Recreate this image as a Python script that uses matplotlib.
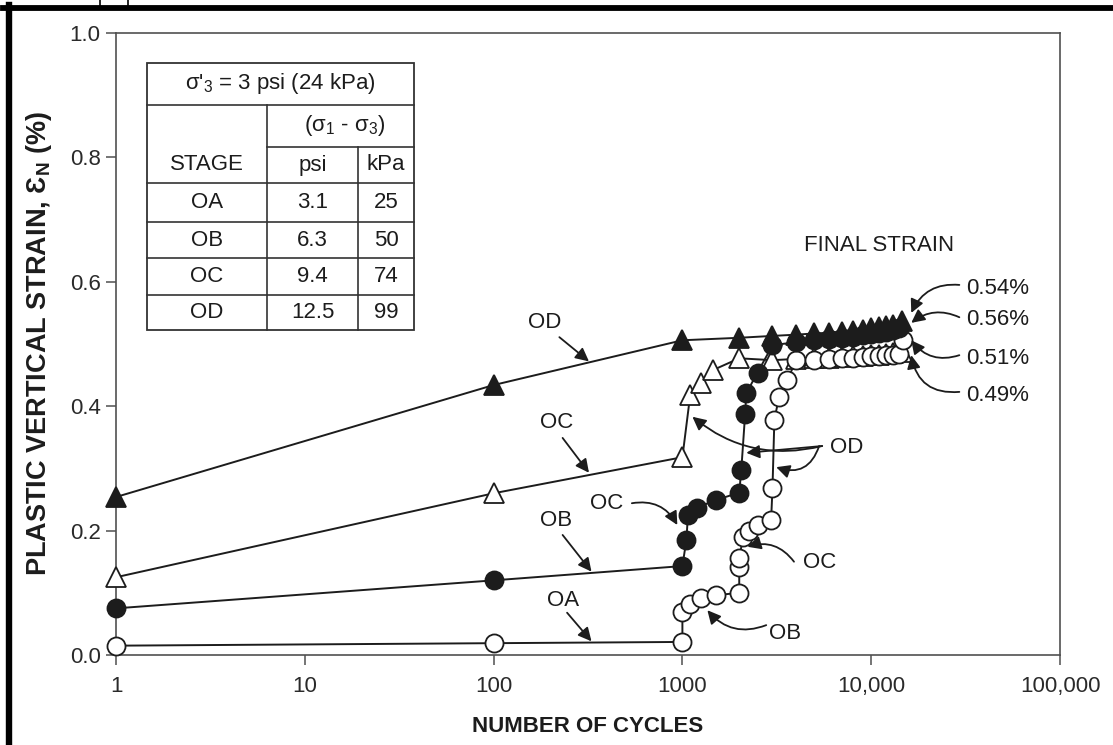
import matplotlib.pyplot as plt
from matplotlib.lines import Line2D
from matplotlib.patches import Rectangle
from matplotlib.ticker import NullLocator

plt.rcParams['font.family'] = ['Liberation Sans', 'DejaVu Sans']
plt.rcParams['mathtext.fontset'] = 'custom'
plt.rcParams['mathtext.rm'] = 'Liberation Sans'
plt.rcParams['mathtext.it'] = 'Liberation Sans:italic'
plt.rcParams['mathtext.bf'] = 'Liberation Sans:bold'

INK = '#1c1c1c'
GREY = '#505050'

# ---- data ----
x_ticks = [1, 10, 100, 1000, 10000, 100000]
x_ticklabels = ['1', '10', '100', '1000', '10,000', '100,000']
y_ticks = [0.0, 0.2, 0.4, 0.6, 0.8, 1.0]
y_ticklabels = ['0.0', '0.2', '0.4', '0.6', '0.8', '1.0']

# filled triangles (stage OD only)
tri_f_n = [1, 100, 1000, 2000, 3000, 4000, 5000, 6000, 7000, 8000, 9000,
           10000, 11000, 12000, 13000, 14500]
tri_f_eps = [0.254, 0.434, 0.506, 0.510, 0.513, 0.515, 0.517, 0.518, 0.520,
             0.521, 0.523, 0.525, 0.527, 0.529, 0.531, 0.537]

# open triangles (OC then OD)
tri_o_n = [1, 100, 1000, 1100, 1250, 1450, 2000, 3000, 4000, 5000, 6000,
           7000, 8000, 9000, 10000, 11000, 12000, 13000, 14500]
tri_o_eps = [0.125, 0.260, 0.318, 0.418, 0.437, 0.458, 0.477, 0.474, 0.476,
             0.477, 0.478, 0.479, 0.480, 0.481, 0.482, 0.483, 0.484, 0.485,
             0.487]

# filled circles (OB, OC, OD)
cir_f_n = [1, 100, 1000, 1050, 1070, 1200, 1500, 2000, 2050, 2150, 2180,
           2500, 3000, 4000, 5000, 6000, 7000, 8000, 9000, 10000, 11000,
           12000, 13000, 14000]
cir_f_eps = [0.075, 0.120, 0.143, 0.185, 0.225, 0.237, 0.249, 0.261, 0.297,
             0.388, 0.421, 0.454, 0.498, 0.503, 0.506, 0.508, 0.510, 0.512,
             0.514, 0.516, 0.518, 0.520, 0.522, 0.525]

# open circles (OA, OB, OC, OD)
cir_o_n = [1, 100, 1000, 1000, 1100, 1250, 1500, 2000, 2000, 2000, 2100,
           2250, 2500, 2950, 3000, 3070, 3250, 3600, 4000, 5000, 6000, 7000,
           8000, 9000, 10000, 11000, 12000, 13000, 14000, 14700]
cir_o_eps = [0.015, 0.019, 0.021, 0.069, 0.082, 0.092, 0.096, 0.100, 0.141,
             0.156, 0.190, 0.200, 0.209, 0.217, 0.268, 0.378, 0.415, 0.442,
             0.474, 0.475, 0.476, 0.477, 0.478, 0.479, 0.480, 0.481, 0.482,
             0.483, 0.484, 0.506]

# table of stages
stages = ['OA', 'OB', 'OC', 'OD']
dev_psi = ['3.1', '6.3', '9.4', '12.5']
dev_kpa = ['25', '50', '74', '99']

final_labels = ['0.54%', '0.56%', '0.51%', '0.49%']

# ---- figure ----
W, H = 1113, 745
fig = plt.figure(figsize=(W / 100, H / 100), dpi=100)
ax = fig.add_axes([116 / W, 1 - 655 / H, 944 / W, 622 / H])


def fxy(px, py):
    # reference pixel -> figure fraction (used for table and frame layout)
    return px / W, 1 - py / H


ax.set_xscale('log')
ax.set_xlim(1, 100000)
ax.set_ylim(0, 1.0)
ax.set_xticks(x_ticks)
ax.set_xticklabels(x_ticklabels)
ax.set_yticks(y_ticks)
ax.set_yticklabels(y_ticklabels)
ax.xaxis.set_minor_locator(NullLocator())
ax.tick_params(direction='out', length=7, width=1.1, colors=GREY,
               labelsize=16, labelcolor='#2a2a2a')
ax.tick_params(axis='x', pad=8)
ax.tick_params(axis='y', pad=4)
for sp in ax.spines.values():
    sp.set_color(GREY)
    sp.set_linewidth(1.2)

ax.set_xlabel('NUMBER OF CYCLES', fontsize=16, fontweight='bold', color=INK)
ax.set_ylabel('PLASTIC VERTICAL STRAIN, Ɛ$_{\\mathregular{N}}$ (%)',
              fontsize=19.5, fontweight='bold', color=INK)
ax.xaxis.set_label_coords(0.5, -0.098)
ax.yaxis.set_label_coords(-0.066, 0.5)

line_kw = dict(color=INK, lw=1.4, mew=1.3, mec=INK, clip_on=False)
ax.plot(tri_o_n, tri_o_eps, marker='^', ms=15, mfc='white', zorder=3, **line_kw)
ax.plot(cir_o_n, cir_o_eps, marker='o', ms=13, mfc='white', zorder=4, **line_kw)
ax.plot(cir_f_n, cir_f_eps, marker='o', ms=13, mfc=INK, zorder=5, **line_kw)
ax.plot(tri_f_n, tri_f_eps, marker='^', ms=15, mfc=INK, zorder=6, **line_kw)

# ---- annotations ----
arr = dict(arrowstyle='-|>', color=INK, lw=1.3, mutation_scale=20,
           shrinkA=0, shrinkB=0)
txt = dict(fontsize=16, color=INK, ha='center', va='center')


def label_arrow(text, text_at, start, tip, conn='arc3,rad=0'):
    if text:
        ax.text(*text_at, text, **txt)
    ax.annotate('', xy=tip, xytext=start,
                arrowprops=dict(arr, connectionstyle=conn), zorder=7)


label_arrow('OD', (186, 0.535), (223, 0.511), (320, 0.472))
label_arrow('OC', (215, 0.373), (232, 0.349), (320, 0.293))
label_arrow('OB', (215, 0.217), (232, 0.193), (330, 0.134))
label_arrow('OA', (232, 0.088), (245, 0.068), (330, 0.022))
label_arrow('OC', (396, 0.244), (540, 0.244), (940, 0.209), 'arc3,rad=-0.35')

label_arrow('OD', (7400, 0.334), (5500, 0.336), (1130, 0.383), 'arc3,rad=-0.25')
label_arrow('', None, (5500, 0.336), (2180, 0.325))
label_arrow('', None, (5300, 0.336), (3140, 0.302), 'arc3,rad=-0.5')
label_arrow('OC', (5300, 0.148), (3900, 0.150), (2210, 0.174), 'arc3,rad=0.35')
label_arrow('OB', (3500, 0.035), (2780, 0.048), (1356, 0.072), 'arc3,rad=-0.35')

ax.text(11000, 0.659, 'FINAL STRAIN', **txt)
final_text_y = [0.590, 0.539, 0.477, 0.418]
final_start_y = [0.595, 0.543, 0.482, 0.423]
final_tip_y = [0.550, 0.534, 0.506, 0.482]
final_rad = [0.35, 0.3, -0.35, -0.45]
for lab, ty, sy, py, rad in zip(final_labels, final_text_y, final_start_y,
                                final_tip_y, final_rad):
    ax.text(31800, ty, lab, fontsize=16, color=INK, ha='left', va='center')
    ax.annotate('', xy=(16300, py), xytext=(29300, sy),
                arrowprops=dict(arr, connectionstyle=f'arc3,rad={rad}'),
                zorder=7)

# ---- stage table (drawn in figure space) ----
t_left, t_right = 147, 414
c1, c2 = 267, 358
r_top, r_sub, r_unit, r_head = 63, 105, 147, 183
r_rows = [183, 222, 258, 295, 330]

x0, y0 = fxy(t_left, r_rows[-1])
x1, y1 = fxy(t_right, r_top)
fig.add_artist(Rectangle((x0, y0), x1 - x0, y1 - y0, transform=fig.transFigure,
                         facecolor='white', edgecolor='#333333', lw=1.3,
                         zorder=8))


def tline(xa, ya, xb, yb):
    (p, q), (r, s) = fxy(xa, ya), fxy(xb, yb)
    fig.add_artist(Line2D([p, r], [q, s], transform=fig.transFigure,
                          color='#333333', lw=1.2, zorder=9))


tline(t_left, r_sub, t_right, r_sub)
tline(c1, r_unit, t_right, r_unit)
for ry in r_rows[:-1]:
    tline(t_left, ry, t_right, ry)
tline(c1, r_sub, c1, r_rows[-1])
tline(c2, r_unit, c2, r_rows[-1])

ttxt = dict(fontsize=16, color=INK, ha='center', va='center', zorder=10)
fig.text(*fxy((t_left + t_right) / 2, 84),
         "σ'$_3$ = 3 psi (24 kPa)", **ttxt)
fig.text(*fxy((c1 + t_right) / 2 + 4, 126), '(σ$_1$ - σ$_3$)', **ttxt)
fig.text(*fxy((t_left + c1) / 2, 165), 'STAGE', **ttxt)
fig.text(*fxy((c1 + c2) / 2, 165), 'psi', **ttxt)
fig.text(*fxy((c2 + t_right) / 2, 165), 'kPa', **ttxt)
for i in range(len(stages)):
    yc = (r_rows[i] + r_rows[i + 1]) / 2
    fig.text(*fxy((t_left + c1) / 2, yc), stages[i], **ttxt)
    fig.text(*fxy((c1 + c2) / 2, yc), dev_psi[i], **ttxt)
    fig.text(*fxy((c2 + t_right) / 2, yc), dev_kpa[i], **ttxt)

# ---- scan frame (thick black edge top/left) ----
fig.add_artist(Line2D([fxy(3, 0)[0], 1], [fxy(0, 8)[1]] * 2,
                      transform=fig.transFigure, color='black', lw=4.2))
fig.add_artist(Line2D([fxy(8.5, 0)[0]] * 2, [0, fxy(0, 5)[1]],
                      transform=fig.transFigure, color='black', lw=4.6))
for sx in (100, 128):
    fig.add_artist(Line2D([fxy(sx, 0)[0]] * 2, [1, fxy(0, 6)[1]],
                          transform=fig.transFigure, color='black', lw=1.2))

fig.savefig('out.png', dpi=100)
